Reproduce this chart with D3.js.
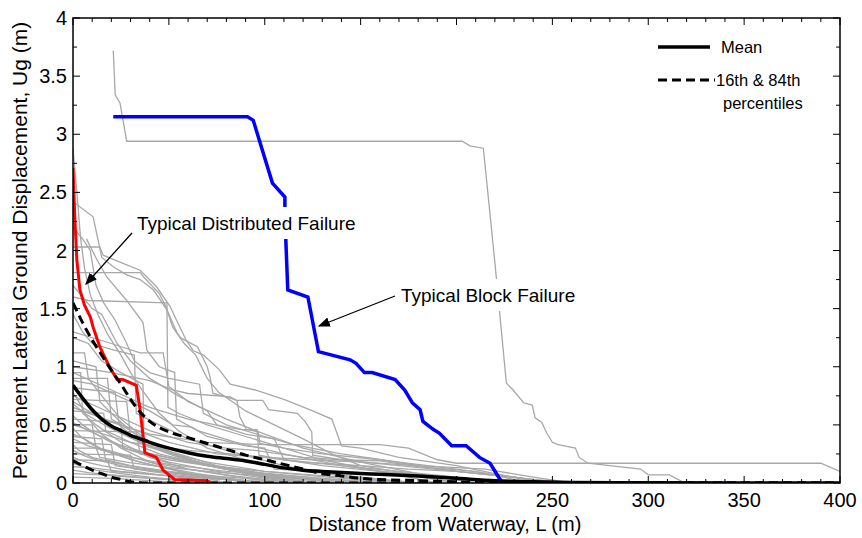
<!DOCTYPE html>
<html>
<head>
<meta charset="utf-8">
<script src="https://cdn.jsdelivr.net/npm/d3@7"></script>
<style>
  body { margin: 0; background: #fff; }
  svg { font-family: "Liberation Sans", Arial, sans-serif; }
</style>
</head>
<body>
<svg width="862" height="538"></svg>
<script>
var svg = d3.select("svg"),
  width = +svg.attr("width"),
  height = +svg.attr("height");

var margin = { left: 73, right: 22, top: 18, bottom: 55 };

// x ticks / y ticks
var xTicks = [0, 50, 100, 150, 200, 250, 300, 350, 400];
var yTicks = [0, 0.5, 1, 1.5, 2, 2.5, 3, 3.5, 4];

// individual site traces [L (m), Ug (m)]
var grayTraces = [
  [[21,3.72],[22,3.34],[24.5,3.27],[28,2.94],[203,2.94],[207,2.9],[214,2.88],[220,1.9],[226,0.86],[229.5,0.8],[235,0.69],[239.5,0.67],[241,0.56],[244.5,0.52],[247,0.43],[250,0.35],[253,0.33],[262,0.3],[264,0.22],[268.5,0.17],[296,0.12],[300,0.07],[311,0.07],[318,0.01],[330,0]],
  [[0,2.88],[2,2.5],[4,2.1],[6,1.85],[9,1.62],[13,1.45],[18,1.28],[25,1.1],[30,0.95],[36,0.8],[45,0.6],[55,0.45],[70,0.3],[90,0.2],[120,0.1],[150,0.05],[180,0]],
  [[0,2.42],[10.5,2.29],[15,1.94],[21,1.86],[28,1.79],[35,1.75],[42,1.66],[49,1.49],[52,1.34],[58,1.2],[64,1.1],[70,0.9],[76,0.78],[90,0.62],[105,0.5],[120,0.38],[135,0.25],[150,0.15],[175,0.08],[200,0]],
  [[0,2.03],[14,2.03],[15.7,1.96],[24.5,1.9],[35,1.83],[43.5,1.69],[50.6,1.52],[54,1.4],[59,1.23],[62.6,1.14],[68,1.1],[76,0.98],[82,0.85],[95,0.8],[110,0.72],[125,0.62],[135,0.55],[140,0.32],[150,0.3],[170,0.22],[200,0.15],[220,0.08],[240,0.02],[260,0]],
  [[0,1.81],[35,1.81],[37,1.77],[45,1.63],[48,1.53],[49.5,1.47],[54,1.3],[56,1.25],[65,1.17],[70,1.0],[71.5,0.91],[73,0.77],[80,0.74],[85.5,0.71],[87,0.57],[90.5,0.46],[96.5,0.44],[97.5,0.34],[110,0.3],[130,0.25],[160,0.2],[200,0.1],[230,0.05],[250,0]],
  [[7,2.1],[12.5,1.92],[17.7,1.77],[28,1.57],[36.5,1.38],[38.6,1.14],[45,1.0],[53,0.95],[54,0.55],[65,0.45],[85,0.35],[110,0.25],[140,0.15],[170,0.08],[200,0]],
  [[0,2.2],[5,2.1],[9,2.0],[12,1.7],[16,1.55],[22,1.4],[28,1.2],[32,1.05],[40,0.95],[50,0.9],[66,0.85],[68,0.6],[80,0.5],[100,0.4],[115,0.33],[140,0.25],[170,0.18],[200,0.12],[230,0.05],[250,0]],
  [[0,1.6],[8,1.57],[49,1.55],[49.5,0.65],[55,0.6],[70,0.5],[90,0.4],[110,0.3],[130,0.2],[160,0.1],[190,0]],
  [[0,1.3],[20,1.2],[35,1.12],[47,1.12],[50,0.83],[60,0.7],[80,0.55],[100,0.42],[120,0.3],[150,0.18],[180,0.08],[210,0]],
  [[0,1.0],[20,0.95],[40,0.88],[52,0.8],[60,0.77],[82,0.74],[85.5,0.71],[99,0.71],[102,0.63],[117,0.6],[121,0.53],[124.5,0.44],[125,0.24],[140,0.2],[170,0.15],[200,0.1],[240,0.03],[260,0]],
  [[0,0.7],[15,0.55],[40,0.42],[70,0.35],[100,0.33],[160,0.33],[175,0.3],[190,0.2],[200,0.17],[390,0.17],[400,0.1]],
  [[0,1.7],[5,1.6],[10,1.5],[15,1.45],[23,1.2],[30,1.05],[40,0.9],[55,0.75],[70,0.62],[75,0.5],[90,0.42],[105,0.38],[110,0.2],[130,0.15],[160,0.1],[200,0.05],[230,0]],
  [[0,1.45],[5,1.3],[10,1.2],[20,1.15],[32,1.1],[33,0.6],[45,0.5],[60,0.38],[80,0.28],[110,0.15],[140,0.06],[170,0]],
  [[0,1.25],[8,1.2],[15,1.05],[25,0.95],[36.5,0.85],[37,0.32],[50,0.26],[70,0.18],[100,0.1],[140,0.04],[170,0]],
  [[0,0.88],[10,0.85],[30,0.7],[40,0.62],[52,0.5],[62,0.48],[70,0.4],[90,0.32],[100,0.3],[105,0.12],[130,0.1],[160,0.08],[200,0.05],[230,0]],
  [[0,0.75],[20,0.6],[40,0.45],[60,0.35],[80,0.3],[95,0.28],[120,0.22],[140,0.2],[160,0.19],[180,0.14],[210,0.1],[230,0.03],[250,0]],
  [[0,0.65],[25,0.5],[50,0.35],[75,0.25],[100,0.22],[125,0.2],[150,0.18],[180,0.15],[215,0.12],[240,0.05],[260,0]],
  [[0,0.5],[30,0.35],[60,0.28],[90,0.24],[120,0.18],[150,0.15],[175,0.12],[200,0.1],[225,0.06],[250,0.01],[270,0]],
  [[0,0.95],[20,0.8],[40,0.65],[60,0.55],[80,0.48],[88,0.46],[96,0.46],[97,0.24],[110,0.2],[140,0.15],[170,0.1],[200,0.05],[220,0]],
  [[0,1.12],[6,1.12],[8,0.9],[15,0.75],[25,0.55],[40,0.35],[60,0.2],[90,0.08],[120,0]],
  [[0,1.05],[12,1.0],[14,0.7],[20,0.6],[30,0.45],[45,0.3],[70,0.15],[100,0.05],[130,0]],
  [[0,0.95],[4,0.95],[5,0.6],[12,0.5],[25,0.35],[40,0.22],[60,0.12],[90,0.04],[110,0]],
  [[0,0.9],[18,0.9],[20,0.55],[30,0.45],[45,0.3],[60,0.2],[85,0.1],[120,0.03],[140,0]],
  [[0,0.82],[10,0.8],[22,0.78],[24,0.5],[35,0.35],[55,0.22],[80,0.12],[110,0.05],[150,0]],
  [[0,0.78],[3,0.7],[8,0.55],[15,0.42],[25,0.3],[40,0.18],[60,0.08],[80,0]],
  [[0,0.72],[28,0.7],[30,0.4],[40,0.32],[55,0.25],[75,0.15],[100,0.08],[130,0.02],[150,0]],
  [[0,0.68],[6,0.6],[14,0.52],[22,0.45],[35,0.35],[50,0.25],[70,0.16],[95,0.08],[125,0]],
  [[0,0.62],[16,0.6],[17,0.45],[30,0.35],[45,0.25],[70,0.15],[100,0.06],[125,0]],
  [[0,0.58],[5,0.5],[12,0.42],[20,0.35],[30,0.28],[50,0.18],[75,0.1],[105,0.03],[120,0]],
  [[0,0.55],[25,0.52],[26,0.3],[40,0.25],[60,0.18],[90,0.1],[130,0.04],[160,0]],
  [[0,0.52],[8,0.45],[15,0.4],[24,0.33],[36,0.27],[55,0.2],[80,0.12],[110,0.05],[140,0]],
  [[0,0.5],[10,0.5],[12,0.3],[22,0.25],[35,0.18],[55,0.1],[80,0.03],[95,0]],
  [[0,0.47],[4,0.4],[10,0.33],[18,0.27],[30,0.2],[45,0.14],[65,0.08],[90,0.02],[100,0]],
  [[0,0.45],[33,0.44],[35,0.25],[50,0.2],[70,0.15],[100,0.1],[140,0.05],[180,0]],
  [[0,0.42],[6,0.38],[14,0.3],[25,0.25],[40,0.18],[60,0.12],[85,0.06],[115,0]],
  [[0,0.4],[15,0.38],[17,0.2],[30,0.15],[50,0.1],[75,0.05],[100,0]],
  [[0,0.38],[8,0.32],[18,0.27],[30,0.22],[50,0.16],[80,0.1],[120,0.05],[160,0]],
  [[0,0.35],[20,0.33],[22,0.15],[35,0.12],[55,0.08],[80,0.03],[100,0]],
  [[0,0.33],[3,0.28],[10,0.22],[20,0.18],[35,0.13],[55,0.08],[80,0.03],[95,0]],
  [[0,0.3],[12,0.3],[14,0.22],[28,0.18],[45,0.14],[70,0.1],[100,0.06],[140,0.02],[170,0]],
  [[0,0.28],[5,0.24],[12,0.2],[25,0.15],[40,0.1],[60,0.06],[85,0.02],[100,0]],
  [[0,0.25],[30,0.24],[32,0.12],[45,0.1],[65,0.07],[90,0.04],[120,0]],
  [[0,0.22],[7,0.18],[15,0.15],[28,0.11],[45,0.07],[65,0.03],[80,0]],
  [[0,0.2],[18,0.19],[20,0.1],[35,0.08],[60,0.05],[90,0.02],[110,0]],
  [[0,0.17],[5,0.14],[12,0.11],[25,0.08],[40,0.05],[60,0.02],[75,0]],
  [[0,0.14],[10,0.13],[25,0.1],[45,0.07],[70,0.04],[100,0.01],[115,0]],
  [[0,0.11],[8,0.09],[20,0.07],[35,0.05],[55,0.02],[70,0]],
  [[0,0.08],[15,0.07],[30,0.05],[50,0.03],[70,0]],
  [[0,0.05],[20,0.04],[40,0.02],[60,0]]
];

// typical distributed failure (red)
var distributedL = [0, 1, 2, 3.6, 6, 9, 10.5, 14, 19, 23, 26, 33, 35, 37.5, 43.5, 47, 53, 70, 72];
var distributedU = [2.71, 2.26, 1.92, 1.66, 1.53, 1.43, 1.34, 1.17, 1.0, 0.89, 0.89, 0.84, 0.63, 0.26, 0.22, 0.11, 0.03, 0.02, 0];

// typical block failure (blue)
var blockL = [21, 91, 94, 104, 110.5, 110.5, 112, 122.5, 128, 144.5, 147.6, 152, 156, 168, 173, 177, 181, 182.5, 188, 191, 197.5, 205, 212, 217.5, 222, 224];
var blockU = [3.15, 3.15, 3.12, 2.58, 2.46, 2.3, 1.66, 1.6, 1.13, 1.06, 1.03, 0.95, 0.95, 0.89, 0.8, 0.69, 0.63, 0.53, 0.46, 0.43, 0.32, 0.32, 0.22, 0.17, 0.05, 0];

// mean and 16th / 84th percentile curves
var statL = [0, 5, 10, 15, 20, 25, 30, 35, 40, 50, 60, 70, 80, 90, 100, 110, 120, 130, 140, 150, 160, 180, 200, 220, 240, 260, 300, 400];
var meanU = [0.84, 0.73, 0.63, 0.55, 0.49, 0.45, 0.41, 0.38, 0.35, 0.3, 0.26, 0.23, 0.21, 0.19, 0.16, 0.13, 0.11, 0.1, 0.09, 0.082, 0.075, 0.06, 0.04, 0.02, 0.01, 0.005, 0.002, 0];
var p84U = [1.55, 1.38, 1.23, 1.1, 0.97, 0.85, 0.72, 0.61, 0.53, 0.44, 0.39, 0.34, 0.29, 0.24, 0.2, 0.16, 0.12, 0.08, 0.06, 0.04, 0.03, 0.02, 0.01, 0.005, 0, 0, 0, 0];
var p16U = [0.19, 0.15, 0.11, 0.08, 0.05, 0.03, 0.01, 0.003, 0, 0, 0, 0, 0, 0, 0, 0, 0, 0, 0, 0, 0, 0, 0, 0, 0, 0, 0, 0];

var x = d3.scaleLinear().domain([0, 400]).range([margin.left, width - margin.right]);
var y = d3.scaleLinear().domain([0, 4]).range([height - margin.bottom, margin.top]);

svg.append("defs").append("clipPath").attr("id", "plotclip")
  .append("rect")
  .attr("x", x(0)).attr("y", y(4))
  .attr("width", x(400) - x(0)).attr("height", y(0) - y(4));

svg.select("defs").append("marker")
  .attr("id", "arrow")
  .attr("viewBox", "0 0 10 10")
  .attr("refX", 9).attr("refY", 5)
  .attr("markerWidth", 12).attr("markerHeight", 12)
  .attr("markerUnits", "userSpaceOnUse")
  .attr("orient", "auto")
  .append("path")
  .attr("d", "M0,1 L10,5 L0,9 z")
  .attr("fill", "#000");

var plot = svg.append("g").attr("clip-path", "url(#plotclip)");

var line = d3.line()
  .x(function (d) { return x(d[0]); })
  .y(function (d) { return y(d[1]); });

var smooth = d3.line()
  .x(function (d) { return x(d[0]); })
  .y(function (d) { return y(d[1]); })
  .curve(d3.curveMonotoneX);

function zip(a, b) {
  return a.map(function (v, i) { return [v, b[i]]; });
}

plot.append("g")
  .selectAll("path")
  .data(grayTraces)
  .enter()
  .append("path")
  .attr("d", line)
  .attr("fill", "none")
  .attr("stroke", "#a8a8a8")
  .attr("stroke-width", 1.3);

plot.append("path")
  .attr("d", smooth(zip(statL, p16U)))
  .attr("fill", "none")
  .attr("stroke", "#000")
  .attr("stroke-width", 3)
  .attr("stroke-dasharray", "9,5");

plot.append("path")
  .attr("d", line(zip(distributedL, distributedU)))
  .attr("fill", "none")
  .attr("stroke", "#ff0000")
  .attr("stroke-width", 3);

plot.append("path")
  .attr("d", line(zip(blockL, blockU)))
  .attr("fill", "none")
  .attr("stroke", "#0000ff")
  .attr("stroke-width", 3.5);

plot.append("path")
  .attr("d", smooth(zip(statL, p84U)))
  .attr("fill", "none")
  .attr("stroke", "#000")
  .attr("stroke-width", 3)
  .attr("stroke-dasharray", "9,5");

plot.append("path")
  .attr("d", smooth(zip(statL, meanU)))
  .attr("fill", "none")
  .attr("stroke", "#000")
  .attr("stroke-width", 3.5);

// annotations with white boxes
function label(txt, tx, ty, ax0, ay0, ax1, ay1) {
  var g = svg.append("g");
  var t = g.append("text")
    .attr("x", tx).attr("y", ty)
    .attr("font-size", 19)
    .attr("dominant-baseline", "central")
    .text(txt);
  var bb = t.node().getBBox();
  g.insert("rect", "text")
    .attr("x", bb.x - 5).attr("y", ty - 16)
    .attr("width", bb.width + 10).attr("height", 32)
    .attr("fill", "#fff");
  svg.append("line")
    .attr("x1", ax0).attr("y1", ay0)
    .attr("x2", ax1).attr("y2", ay1)
    .attr("stroke", "#000")
    .attr("stroke-width", 1.3)
    .attr("marker-end", "url(#arrow)");
}
label("Typical Distributed Failure", 137, 223, 132, 233, 86, 284);
label("Typical Block Failure", 401, 295, 395, 296, 319, 326);

// axes box with inward ticks
var x0 = x(0), x1 = x(400), y0 = y(0), y1 = y(4);
var axes = svg.append("g");
axes.append("rect")
  .attr("x", x0).attr("y", y1)
  .attr("width", x1 - x0).attr("height", y0 - y1)
  .attr("fill", "none").attr("stroke", "#000").attr("stroke-width", 1.5);

var xMinor = d3.range(0, 401, 10);
var yMinor = d3.range(0, 4.01, 0.25);

xMinor.forEach(function (v) {
  var len = xTicks.indexOf(v) >= 0 ? 7 : 4;
  axes.append("line").attr("x1", x(v)).attr("x2", x(v)).attr("y1", y0).attr("y2", y0 - len).attr("stroke", "#000");
  axes.append("line").attr("x1", x(v)).attr("x2", x(v)).attr("y1", y1).attr("y2", y1 + len).attr("stroke", "#000");
});
yMinor.forEach(function (v) {
  var major = Math.abs(v * 2 - Math.round(v * 2)) < 1e-6;
  var len = major ? 7 : 4;
  axes.append("line").attr("x1", x0).attr("x2", x0 + len).attr("y1", y(v)).attr("y2", y(v)).attr("stroke", "#000");
  axes.append("line").attr("x1", x1).attr("x2", x1 - len).attr("y1", y(v)).attr("y2", y(v)).attr("stroke", "#000");
});

axes.selectAll(".xl")
  .data(xTicks)
  .enter()
  .append("text")
  .attr("x", function (d) { return x(d); })
  .attr("y", y0 + 17)
  .attr("text-anchor", "middle")
  .attr("dominant-baseline", "central")
  .attr("font-size", 20)
  .text(function (d) { return d; });

axes.selectAll(".yl")
  .data(yTicks)
  .enter()
  .append("text")
  .attr("x", x0 - 6)
  .attr("y", function (d) { return y(d); })
  .attr("text-anchor", "end")
  .attr("dominant-baseline", "central")
  .attr("font-size", 20)
  .text(function (d) { return d; });

svg.append("text")
  .attr("x", 445).attr("y", 524)
  .attr("text-anchor", "middle")
  .attr("dominant-baseline", "central")
  .attr("font-size", 20)
  .text("Distance from Waterway, L (m)");

svg.append("text")
  .attr("transform", "translate(19," + ((y0 + y1) / 2) + ") rotate(-90)")
  .attr("text-anchor", "middle")
  .attr("dominant-baseline", "central")
  .attr("font-size", 21)
  .text("Permanent Lateral Ground Displacement, Ug (m)");

// legend
var legend = svg.append("g");
legend.append("line")
  .attr("x1", 658).attr("x2", 710).attr("y1", 47).attr("y2", 47)
  .attr("stroke", "#000").attr("stroke-width", 3.5);
legend.append("text")
  .attr("x", 721).attr("y", 47)
  .attr("dominant-baseline", "central")
  .attr("font-size", 16.5)
  .text("Mean");
legend.append("line")
  .attr("x1", 658).attr("x2", 715).attr("y1", 80).attr("y2", 80)
  .attr("stroke", "#000").attr("stroke-width", 3)
  .attr("stroke-dasharray", "9,5");
legend.append("text")
  .attr("x", 716).attr("y", 80)
  .attr("dominant-baseline", "central")
  .attr("font-size", 16.5)
  .text("16th & 84th");
legend.append("text")
  .attr("x", 723).attr("y", 103)
  .attr("dominant-baseline", "central")
  .attr("font-size", 16.5)
  .text("percentiles");
</script>
</body>
</html>
